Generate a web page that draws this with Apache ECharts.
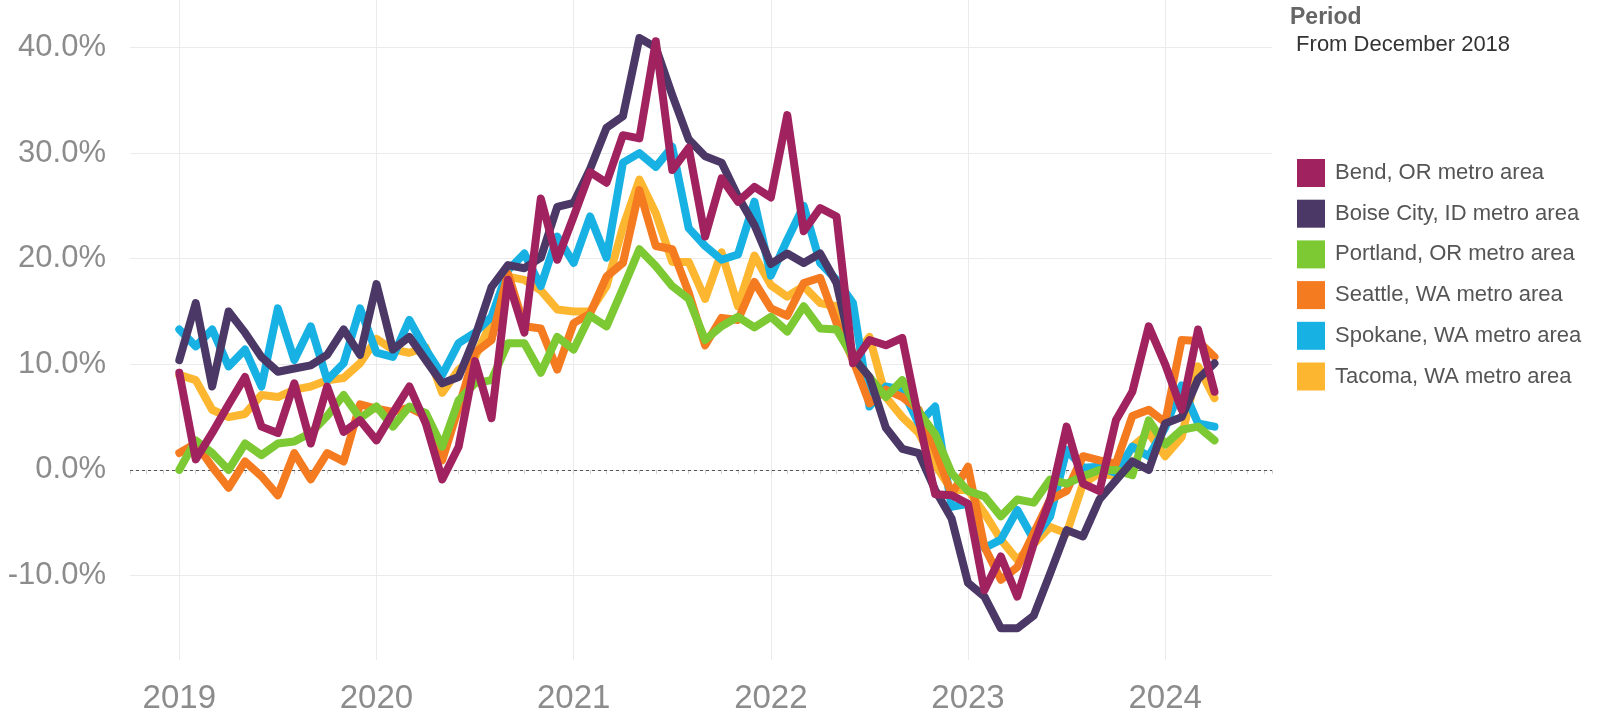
<!DOCTYPE html>
<html>
<head>
<meta charset="utf-8">
<title>Home price change by metro area</title>
<script src="https://cdn.jsdelivr.net/npm/echarts@6/dist/echarts.min.js"></script>
<style>
  html, body { margin: 0; padding: 0; background: #fff; }
  #chart { width: 1598px; height: 712px; }
</style>
</head>
<body>
<div id="chart"></div>
<script>
// monthly values, Jan 2019 .. Apr 2024 (index 0 = Jan 2019)
const yearLabels = ['2019', '2020', '2021', '2022', '2023', '2024']

const bend = [
  9.2, 1.0, 3.5, 6.2, 8.8, 4.1, 3.5, 8.2, 2.5, 7.9, 3.6, 4.7,
  2.8, 5.4, 7.9, 4.4, -0.9, 2.2, 10.3, 4.9, 18.0, 13.0, 25.7, 19.9,
  24.0, 28.2, 27.2, 31.7, 31.4, 40.6, 28.4, 30.5, 22.1, 27.6, 25.4, 26.8,
  25.8, 33.6, 22.6, 24.8, 24.0, 10.1, 12.3, 11.8, 12.5, 4.8, -2.3, -2.4,
  -3.2, -11.4, -8.2, -12.0, -7.0, -2.8, 4.1, -1.3, -2.0, 4.7, 7.4, 13.6,
  10.0, 5.7, 13.3, 7.4
]
const boise = [
  10.4, 15.8, 7.9, 15.0, 13.0, 10.7, 9.3, 9.6, 9.9, 10.9, 13.3, 10.9,
  17.6, 11.4, 12.6, 10.4, 8.2, 8.8, 12.6, 17.3, 19.4, 19.1, 20.1, 24.9,
  25.3, 28.5, 32.4, 33.5, 40.9, 40.0, 35.5, 31.3, 29.7, 29.1, 25.9, 23.2,
  19.5, 20.5, 19.6, 20.5, 17.7, 10.7, 8.8, 4.0, 2.0, 1.6, -1.9, -4.6,
  -10.7, -12.0, -15.0, -15.0, -13.8, -9.8, -5.7, -6.3, -2.8, -1.0, 0.8, 0.0,
  4.4, 5.0, 8.6, 10.1
]
const portland = [
  0.0, 2.8, 1.6, 0.0, 2.5, 1.4, 2.5, 2.7, 3.5, 5.1, 7.1, 4.9,
  6.0, 4.1, 6.0, 5.4, 2.2, 6.6, 8.2, 8.5, 12.0, 12.0, 9.2, 12.6,
  11.4, 14.6, 13.6, 17.2, 20.9, 19.3, 17.4, 16.2, 12.3, 13.6, 14.5, 13.5,
  14.5, 13.1, 15.5, 13.4, 13.3, 10.7, 8.8, 6.9, 8.5, 5.5, 3.4, -0.3,
  -2.0, -2.5, -4.4, -2.8, -3.1, -0.9, -1.3, -0.6, 0.0, 0.0, -0.5, 4.7,
  2.4, 3.8, 4.1, 2.8
]
const seattle = [
  1.6, 2.5, 0.3, -1.7, 0.8, -0.6, -2.4, 1.6, -0.9, 1.6, 0.8, 6.2,
  5.8, 5.5, 5.9, 5.1, 0.9, 5.9, 11.1, 12.3, 18.6, 13.6, 13.4, 9.5,
  13.9, 14.8, 18.3, 19.6, 26.5, 21.2, 20.9, 16.8, 11.8, 14.4, 14.2, 17.8,
  15.3, 14.6, 17.7, 18.2, 13.9, 10.4, 6.3, 7.6, 6.9, 5.7, 1.9, -2.3,
  0.3, -7.3, -10.4, -9.2, -6.0, -2.8, -2.0, 1.3, 0.9, 0.6, 5.1, 5.7,
  4.5, 12.3, 12.2, 10.7
]
const spokane = [
  13.3, 11.7, 13.3, 9.8, 11.4, 7.9, 15.3, 10.4, 13.6, 8.5, 10.1, 15.3,
  11.1, 10.7, 14.2, 11.4, 9.0, 12.0, 13.0, 14.5, 18.9, 20.5, 17.4, 22.1,
  19.6, 24.0, 20.1, 29.1, 30.0, 28.7, 30.6, 22.9, 21.2, 19.9, 20.4, 25.4,
  18.4, 21.8, 25.0, 19.6, 18.0, 15.8, 6.0, 7.9, 7.6, 4.4, 6.0, -3.5,
  -3.2, -7.4, -6.6, -3.8, -6.6, -4.4, 1.9, 0.2, 0.3, -0.3, 2.2, 1.3,
  4.0, 8.0, 4.4, 4.1
]
const tacoma = [
  9.0, 8.5, 5.7, 5.0, 5.3, 7.1, 6.9, 7.6, 7.9, 8.5, 8.7, 10.1,
  12.4, 11.4, 11.1, 11.6, 7.3, 9.5, 10.7, 14.0, 18.3, 18.0, 17.0, 15.2,
  15.0, 15.0, 17.4, 23.0, 27.5, 24.3, 19.7, 19.7, 16.2, 20.6, 15.5, 20.3,
  17.5, 16.4, 17.4, 15.8, 15.5, 10.4, 12.6, 6.9, 5.0, 3.5, 0.5, -1.9,
  -1.9, -4.1, -6.6, -8.5, -7.0, -5.4, -6.0, -1.3, -0.3, -0.6, 2.2, 3.5,
  1.3, 3.1, 9.8, 6.8
]

const metros = [
  { name: 'Bend, OR metro area', color: '#a0225f', values: bend },
  { name: 'Boise City, ID metro area', color: '#4b3866', values: boise },
  { name: 'Portland, OR metro area', color: '#7cc934', values: portland },
  { name: 'Seattle, WA metro area', color: '#f57b21', values: seattle },
  { name: 'Spokane, WA metro area', color: '#17b2e3', values: spokane },
  { name: 'Tacoma, WA metro area', color: '#fdb62f', values: tacoma },
]

const FONT = "'Liberation Sans', Arial, sans-serif"

// only the january ticks get a visible vertical grid line (first tick is month -3)
const yearLineColors = Array.from({ length: 12 }, (_, i) => (i === 3 ? '#ebebeb' : 'rgba(0,0,0,0)'))

const chart = echarts.init(document.getElementById('chart'))

// draw bottom-up so Bend ends on top
const series = metros.slice().reverse().map((m, idx) => ({
  name: m.name,
  type: 'line',
  data: m.values.map((v, i) => [i, v]),
  showSymbol: false,
  symbol: 'none',
  itemStyle: { color: m.color },
  lineStyle: { color: m.color, width: 8, cap: 'round', join: 'round' },
  emphasis: { disabled: true },
  z: 2 + idx,
  markLine: idx === 0 ? {
    silent: true,
    symbol: 'none',
    z: 1,
    label: { show: false },
    lineStyle: { color: '#555', type: [3, 3], width: 1 },
    data: [{ yAxis: 0 }],
  } : undefined,
}))

chart.setOption({
  animation: false,
  textStyle: { fontFamily: FONT },
  title: {
    text: 'Period',
    subtext: ' From December 2018',
    left: 1290,
    top: 6,
    padding: 0,
    itemGap: 5,
    textStyle: { fontSize: 23, fontWeight: 'bold', color: '#666', fontFamily: FONT },
    subtextStyle: { fontSize: 22, color: '#333', fontFamily: FONT },
  },
  legend: {
    orient: 'vertical',
    left: 1297,
    top: 159,
    padding: 0,
    icon: 'rect',
    itemWidth: 28,
    itemHeight: 28,
    itemGap: 12.7,
    data: metros.map(m => m.name),
    textStyle: { fontSize: 22, color: '#555', fontFamily: FONT, padding: [0, 0, 0, 5] },
  },
  grid: { left: 130, right: 326, top: 0, bottom: 52, containLabel: false, outerBoundsMode: 'none' },
  xAxis: {
    type: 'value',
    min: -3,
    max: 66.5,
    interval: 1,
    axisLine: { show: false },
    axisTick: { show: true, length: 4, lineStyle: { color: '#d0d0d0' } },
    axisLabel: {
      formatter: v => (v >= 0 && v % 12 === 0 ? yearLabels[v / 12] : ''),
      fontSize: 33,
      color: '#8c8c8c',
      margin: 22,
    },
    splitLine: { show: true, lineStyle: { color: yearLineColors, width: 1 } },
  },
  yAxis: {
    type: 'value',
    min: -18,
    max: 44.5,
    splitNumber: 6,
    axisLine: { show: false },
    axisTick: { show: false },
    axisLabel: {
      formatter: v => v.toFixed(1) + '%',
      showMinLabel: false,
      showMaxLabel: false,
      fontSize: 31,
      color: '#8c8c8c',
      margin: 24,
      padding: [6, 0, 0, 0],
    },
    splitLine: { lineStyle: { color: '#ebebeb', width: 1 }, showMinLine: false, showMaxLine: false },
  },
  series,
})
</script>
</body>
</html>
